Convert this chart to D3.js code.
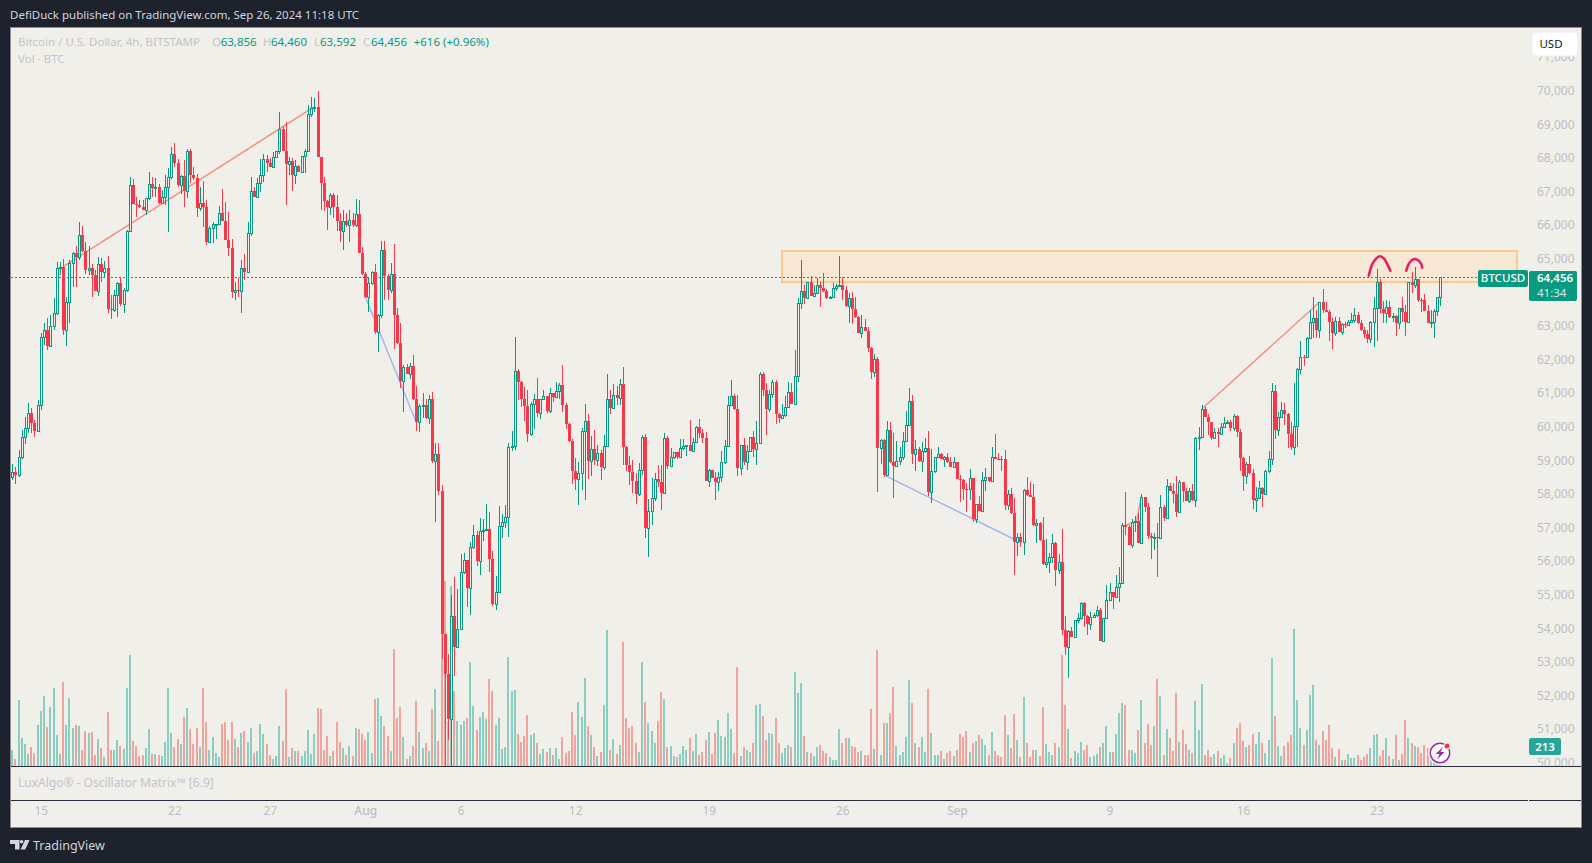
<!DOCTYPE html>
<html>
<head>
<meta charset="utf-8">
<script src="https://cdn.jsdelivr.net/npm/d3@7"></script>
<style>
  html, body { margin: 0; padding: 0; background: #1e222d; overflow: hidden; }
  text { font-family: "Noto Sans", sans-serif; }
</style>
</head>
<body>
<div id="chart-area"></div>
<script>
// BTCUSD 4h candles, Jul 13 12:00 UTC to Sep 26 08:00 UTC
const startTime = Date.UTC(2024, 6, 13, 12);
const firstOpen = 58500;

const closes = [
  58650,58550,59100,59700,59950,60400,60100,59880,60650,62670,
  62880,62415,63000,63375,64710,64740,62880,63720,64860,65160,
  65040,65695,65230,64665,64720,64515,64050,64830,64610,64710,
  63510,63480,63910,64270,63650,64070,65830,67185,66630,66590,
  66530,66460,66795,67215,67115,67140,66650,66850,67145,67420,
  68115,67840,67190,67470,67025,68205,67500,67410,66510,66650,
  66540,65495,65905,66020,66025,66350,66130,65555,65330,64020,
  64065,64050,64710,64610,65755,67010,66850,67240,67490,67960,
  67860,67740,68017,68215,68850,68215,67818,67900,67490,67770,
  67590,68055,68215,69305,69475,69525,68036,67243,66727,66550,
  66895,66530,66130,65825,66130,66000,66150,66000,66320,65180,
  64545,63870,64266,64593,62812,63336,65248,64488,64070,64554,
  63310,62497,61370,61777,61567,61800,60820,60140,60624,60650,
  60270,60820,58985,59183,58096,53838,52633,51296,54362,53458,
  53969,55673,56040,55214,56406,56773,56013,56890,56930,56956,
  56065,54725,55091,57036,57175,57304,59407,59420,61648,61321,
  60825,60627,59793,60666,60815,60418,60815,60905,60478,60994,
  60895,61063,61232,60647,60091,59575,58692,58454,58633,59863,
  60160,58990,59327,59020,59208,58812,59436,60815,60567,60934,
  60865,61262,59407,58861,58663,58395,58008,58712,59694,56996,
  57502,57869,58434,58355,58038,59655,58831,59109,59238,59099,
  59357,59436,59446,59288,59535,59982,59813,59674,58395,58712,
  58484,58365,58514,58940,59436,60637,60915,60518,58782,59446,
  58960,59278,59684,59347,59506,61559,61093,60527,60974,61321,
  60388,60269,60348,60577,61023,60686,61500,63672,64029,63840,
  64297,63900,63970,64217,64118,64049,63830,63850,64128,64198,
  64228,64069,63592,63821,63503,63265,62799,62958,62858,62352,
  61638,62015,59376,59595,58563,59892,58960,58841,58990,59109,
  59575,60041,60755,59198,59327,58990,59277,59357,58047,58672,
  59089,59178,59050,59089,58950,58801,58940,58454,58414,58146,
  58140,58464,57264,57690,57502,58414,58494,58395,59089,59040,
  59030,59025,57670,57988,57422,56579,56708,56559,58117,57967,
  57918,57075,57124,56629,55924,55983,56133,56530,55737,55964,
  53950,53455,53921,53752,54238,54298,54744,54377,54119,54347,
  54387,54546,53633,54298,54843,55072,54943,55220,55340,57075,
  57025,56480,57175,57195,56550,57918,57621,56758,56679,56728,
  56679,57601,57294,58226,58087,58008,57462,58345,58087,57800,
  58097,57819,59655,59704,60527,60299,60131,59674,59853,59783,
  59982,60121,60150,59962,60319,59853,59079,58534,58891,58613,
  57819,57889,58166,57998,58682,59050,61073,59902,60280,60496,
  60379,59793,59387,60011,61718,62085,62065,62630,63106,63225,
  62888,63702,63464,63424,63126,62779,63156,62829,63057,63040,
  63126,63176,63315,63077,62878,62749,62610,63106,63523,64297,
  63503,63374,63573,63255,63295,63077,63523,63424,63126,64317,
  64208,64406,63771,63760,63454,63097,63126,63444,63856,64456
];
const highs = [
  58900,58800,59300,59900,60300,60700,60550,60200,60800,62800,
  63080,63225,63325,63820,64910,64910,64990,63850,64960,65210,
  65380,66080,65980,65490,65380,64830,64660,65040,65010,64920,
  65080,63920,64070,64320,64420,64120,65850,67420,67370,66825,
  66745,66745,66800,67570,67420,67390,67220,67045,67490,67690,
  68325,68445,67957,67490,67940,68265,68265,67720,67510,67120,
  67310,66745,65985,66100,66030,66570,67075,66685,66400,65585,
  64320,64420,64960,65140,66080,67420,67140,67390,67960,68105,
  68080,67990,68185,68215,69356,68950,69068,68015,67990,67940,
  67790,68055,68265,69575,69800,69790,69990,68036,67440,66745,
  66945,66945,66896,66350,66450,66350,66450,66350,66767,66745,
  65358,64615,64423,64640,64842,63340,65524,65524,64555,64880,
  65432,63532,63074,61830,61870,61910,62130,61213,60690,61017,
  60820,60950,61030,59510,59510,58266,53840,53222,54991,55515,
  55160,56209,56240,56040,56560,57060,56900,57280,57245,57690,
  57454,56312,55558,57640,57403,57670,59525,59873,62660,61708,
  61360,61172,61093,60736,60974,61460,60815,61093,60915,61153,
  60994,61320,61312,61837,60716,60100,59625,59069,58950,59962,
  60666,60379,59724,59903,59456,59308,59754,61569,61093,61272,
  61212,61420,61777,59427,59139,59010,58613,58910,59754,59783,
  57839,58464,58613,58861,58861,59803,59724,59367,59240,59258,
  59635,59645,59446,60200,59655,60022,60220,59942,59843,58752,
  58712,58652,58652,59278,59605,60915,61391,60974,60944,59450,
  59655,59446,59704,59873,60170,61619,61619,61291,61093,61390,
  61380,60418,60666,60924,61331,61291,62283,63840,64961,64217,
  64297,64485,64217,64416,64317,64565,64088,63900,64287,64247,
  65080,64446,64188,63989,64019,63850,63295,63315,63206,62958,
  62382,62164,62065,59635,59634,60170,60140,59803,59575,59407,
  59853,60468,61152,60943,59605,59407,59555,59654,59870,59327,
  59109,59407,59208,59129,59208,59109,59089,58950,58563,58434,
  58315,58741,58464,57690,57938,58662,58761,58513,59406,59783,
  59208,59130,59307,58116,58166,57868,56827,56827,58136,58493,
  58345,58295,57243,57174,57323,56648,56232,56798,56560,56212,
  56947,54367,53950,54030,54248,54447,54794,54784,54397,54496,
  54467,54665,54595,54298,55290,55340,55092,55587,55835,57125,
  58058,57075,57254,57343,57423,57998,57918,57720,56827,56827,
  57125,57958,57660,58434,58325,58315,58534,58415,58345,58167,
  58167,58295,59704,60002,60647,60577,60379,60131,59952,59952,
  60101,60280,60200,60200,60369,60339,59922,59089,58941,59129,
  58742,58196,58385,58216,58712,59277,61291,61242,60448,60736,
  60696,60398,60150,61291,61737,62561,62134,62680,63473,63851,
  63474,63722,64089,63722,63474,63226,63275,63275,63097,63126,
  63176,63374,63523,63404,63176,62978,62878,63156,63870,64694,
  64386,63751,63771,63741,63374,63325,63543,63870,63622,64317,
  64613,64762,64406,63820,63950,63622,63474,63494,63870,64460
];
const lows = [
  58400,58300,58500,59050,59500,59800,59800,59700,59850,60500,
  62430,62280,62432,62878,63325,64510,62730,62410,63100,64170,
  64150,64960,65210,64545,64510,63870,64040,63900,64320,64420,
  63390,63215,63420,63275,63592,63390,64020,65800,66620,66250,
  66520,66450,66310,66745,66825,66825,66630,66630,66600,65800,
  67360,67740,67144,66925,66550,66815,67240,67340,66250,66420,
  65950,65420,65460,65460,65585,66020,66120,65550,65080,63820,
  63770,63870,63390,64370,64620,65680,66840,66840,67000,67290,
  67590,67730,67730,67985,68130,68210,66598,67490,67025,67213,
  67585,67585,67540,68175,69225,69375,68030,66450,66430,65850,
  66300,66200,65835,65500,65260,65950,65500,65950,65950,65180,
  64515,63820,63410,64220,62760,62220,63240,63768,63770,63990,
  62325,62460,61150,60427,61560,61410,60780,59877,59840,60258,
  60230,60074,58920,57152,57980,53090,49500,50668,49000,52567,
  53420,53950,55620,54625,54400,56360,55840,55580,56590,56890,
  55670,54675,54546,55091,56690,56996,56728,59288,59310,60795,
  60597,60170,59555,59735,59932,60290,60220,60795,60420,60420,
  60745,60875,60815,60448,59932,59555,58296,58117,57671,58117,
  57820,58444,58534,58861,58830,58414,58712,59425,60389,60537,
  60647,60637,58861,58692,58266,58018,57700,57950,58563,56688,
  56133,57075,57790,58216,57522,58038,58732,58811,59040,59040,
  59080,59307,59129,59280,59258,59525,59674,59506,58390,58216,
  58464,57820,58097,58365,58901,59407,60617,60498,58534,58573,
  58861,58712,59248,59109,58861,59486,60924,59754,60448,60850,
  60080,60120,60249,60298,60567,60680,60676,61341,63503,63650,
  63840,63890,63850,63960,63572,64020,63800,63800,63820,64039,
  64168,63771,63553,63096,63057,63225,62779,62630,62848,62233,
  61420,61490,58067,58890,58514,58533,58910,57868,58860,58860,
  59010,59555,60021,58890,58692,58960,58662,59208,57938,57720,
  58632,59059,59029,58811,58930,58791,58761,58434,57770,57819,
  57472,57819,57174,57125,57495,57495,58097,58364,58394,59030,
  59029,58692,57522,57522,57402,55587,56162,56430,56182,57948,
  57908,57045,56549,56599,55884,55785,55640,55954,55270,55617,
  53802,53207,52532,53732,53742,54169,54248,54030,53802,53950,
  54298,54347,53630,53633,54288,54823,54575,54923,54794,55320,
  56778,56470,56391,56857,56530,56540,57462,56659,56073,56331,
  55538,56669,57204,57284,58077,57720,57323,57455,57770,57790,
  57740,57800,57621,59307,59655,60280,59754,59605,59655,59407,
  59754,59962,60101,59883,59883,59704,58683,58097,58296,58600,
  57542,57472,57869,57621,57990,58633,58861,59644,59734,60249,
  60051,59377,59307,59159,59406,61569,61807,62055,62610,62630,
  62630,62630,63394,63420,62551,62313,62710,62809,62730,62928,
  63057,63097,63077,63057,62858,62630,62482,62482,62382,62551,
  63374,63077,63077,63225,63126,62710,62898,63126,62710,63126,
  63970,64118,63722,63424,63450,63077,62928,62650,63295,63592
];
const volumes = [
  800,350,3300,1400,1100,600,950,650,2050,2750,
  3500,1950,2950,3900,1550,600,4200,2050,3400,1900,
  2050,2000,800,1750,1650,1700,550,1350,900,450,
  2700,800,800,1300,1000,850,3900,5550,1250,1000,
  500,550,900,1850,600,600,550,500,1200,3900,
  1650,950,1350,1100,2450,2900,1850,1100,1900,950,
  3900,2200,800,1450,650,450,2100,2200,1300,2200,
  1350,950,1650,1750,1200,1900,650,750,2100,1600,
  1100,550,350,500,2000,1250,3850,450,900,750,
  750,500,750,1800,600,1600,2900,2850,800,1500,
  500,750,2200,1200,900,550,1000,500,1900,1850,
  1600,1300,1700,650,3350,3400,2500,2000,1500,750,
  5850,2400,2950,1450,350,500,1000,3250,1700,900,
  1150,750,2850,3850,1250,8400,9250,2250,9000,3750,
  2250,2050,2250,2400,5200,3000,1800,2450,2700,2350,
  4350,3750,2050,2400,850,950,5450,3750,3800,1600,
  1200,1500,2550,1550,1650,1150,600,850,700,900,
  550,900,350,1450,650,750,2700,1550,3200,2450,
  4400,2000,1550,950,500,700,3050,6800,800,1350,
  600,1050,6200,2400,1900,2000,1150,700,5200,3200,
  2150,1750,1150,2250,3700,3350,950,1000,500,450,
  600,1000,800,1400,750,1600,550,700,1300,1700,
  600,1650,2300,1500,1450,2650,1850,650,4950,500,
  950,800,700,1150,3050,3100,2500,1300,1650,1600,
  2400,1150,650,900,1050,950,4700,3650,4150,1500,
  700,650,500,950,1050,750,650,450,300,300,
  1850,1150,1400,1400,1000,950,700,750,550,550,
  2850,850,5800,550,2150,2150,2650,3950,1000,550,
  700,1450,4300,3150,1150,950,1450,700,3850,1650,
  550,550,750,350,650,750,500,800,1600,1450,
  1750,700,1150,1250,1550,1350,1050,550,1700,750,
  550,450,2550,1550,900,2600,1300,450,3450,1150,
  450,800,800,500,2950,1100,700,550,1150,950,
  5550,3050,1850,400,750,650,1200,800,1050,450,
  500,600,950,1150,2000,700,700,1600,2650,3150,
  3050,800,800,650,1800,3300,1150,2100,1050,2000,
  4350,3500,550,1850,1400,750,3650,1200,1800,1100,
  800,650,3250,1800,4100,550,800,450,600,750,
  400,550,150,400,1150,1900,2150,1250,950,1050,
  1600,1100,1700,1150,650,1300,5400,2500,1000,500,
  1000,1200,1550,6850,3300,1900,1050,1800,3550,4050,
  1300,1050,1750,1300,2050,900,450,850,300,300,
  600,400,400,550,300,450,600,900,1550,1600,
  500,800,1400,500,350,1550,300,600,2300,1400,
  1150,1000,950,650,1050,900,900,150,150,213
];

// 64,000 is covered by the last price label, so it is left out
const priceTicks = [50000,51000,52000,53000,54000,55000,56000,57000,58000,59000,60000,
  61000,62000,63000,65000,66000,67000,68000,69000,70000,71000];
const timeTicks = [
  {label: "15", date: Date.UTC(2024, 6, 15)},
  {label: "22", date: Date.UTC(2024, 6, 22)},
  {label: "27", date: Date.UTC(2024, 6, 27)},
  {label: "Aug", date: Date.UTC(2024, 7, 1)},
  {label: "6", date: Date.UTC(2024, 7, 6)},
  {label: "12", date: Date.UTC(2024, 7, 12)},
  {label: "19", date: Date.UTC(2024, 7, 19)},
  {label: "26", date: Date.UTC(2024, 7, 26)},
  {label: "Sep", date: Date.UTC(2024, 8, 1)},
  {label: "9", date: Date.UTC(2024, 8, 9)},
  {label: "16", date: Date.UTC(2024, 8, 16)},
  {label: "23", date: Date.UTC(2024, 8, 23)}
];

// drawings on the chart, as [candle index, price]
const supplyZone = {from: 242, to: 473, top: 65238, bottom: 64315};
const redLines = [
  [[16, 64762], [95, 69525]],
  [[374, 60527], [411, 63702]],
  [[349.5, 57050], [353.5, 57195], [355, 57918]]
];
const blueLines = [
  [[111, 63870], [127, 60140]],
  [[274, 58563], [317, 56559]]
];
const arcs = [
  [[426.5, 64495], [427.5, 64813], [428.6, 64982], [429.9, 65072], [431.2, 65012], [432.2, 64863], [433.3, 64643]],
  [[438.3, 64643], [439, 64833], [440.1, 64961], [441.1, 64991], [442.2, 64940], [443, 64842], [443.3, 64733]]
];

const lastPrice = 64456;
const lastVolume = 213;

const green = "#089981";
const red = "#f7374a";
const paneBg = "#f1efe9";
const faint = "#bcbec5";

const width = 1592;
const height = 863;
const frame = {left: 10, top: 27, right: 1581, bottom: 827};
const axisX = 1528;
const volumeBase = 766;
const timeLine = 800;

const svg = d3.select("#chart-area").append("svg").attr("width", width).attr("height", height)
  .style("display", "block");

svg.append("rect").attr("x", frame.left + 0.5).attr("y", frame.top + 0.5)
  .attr("width", frame.right - frame.left).attr("height", frame.bottom - frame.top)
  .attr("fill", paneBg).attr("stroke", "#8b8d92");

const defs = svg.append("defs");
defs.append("clipPath").attr("id", "price-clip").append("rect")
  .attr("x", frame.left + 1).attr("y", frame.top + 1)
  .attr("width", frame.right - frame.left - 1).attr("height", volumeBase - frame.top - 1);

// one candle every 4 hours, 3.18px apart
const scaleX = d3.scaleLinear().domain([0, 449]).range([12.2, 1440.3]);
const scaleY = d3.scaleLinear().domain([50000, 70000]).range([762.7, 90.7]);
const scaleVolume = d3.scaleLinear().domain([0, 5000]).range([volumeBase, volumeBase - 100]);
const timeToIndex = t => (t - startTime) / (4 * 3600 * 1000);

const candles = closes.map((close, i) => ({
  i: i,
  open: i === 0 ? firstOpen : closes[i - 1],
  close: close,
  high: highs[i],
  low: lows[i],
  volume: volumes[i]
}));

const pane = svg.append("g").attr("clip-path", "url(#price-clip)");

// price axis, labels run under the currency button and the pane edge
const yAxis = d3.axisRight(scaleY).tickValues(priceTicks).tickSize(0).tickPadding(9).tickFormat(d3.format(","));
const yAxisGroup = pane.append("g").attr("transform", `translate(${axisX}, 0)`).call(yAxis);
yAxisGroup.select(".domain").remove();
yAxisGroup.selectAll("text").attr("font-size", "12px").attr("fill", faint)
  .style("font-family", '"Noto Sans", sans-serif');

// volume
pane.append("g").selectAll("rect").data(candles).enter().append("rect")
  .attr("x", d => Math.round(scaleX(d.i)) - 1)
  .attr("y", d => Math.round(scaleVolume(d.volume)))
  .attr("width", 2)
  .attr("height", d => volumeBase - Math.round(scaleVolume(d.volume)))
  .attr("fill", d => d.close >= d.open ? "#8ccdc1" : "#f1a39c")
  .attr("shape-rendering", "crispEdges");

// zone
pane.append("rect")
  .attr("x", Math.round(scaleX(supplyZone.from)))
  .attr("y", Math.round(scaleY(supplyZone.top)))
  .attr("width", Math.round(scaleX(supplyZone.to)) - Math.round(scaleX(supplyZone.from)))
  .attr("height", Math.round(scaleY(supplyZone.bottom)) - Math.round(scaleY(supplyZone.top)))
  .attr("fill", "#f7e8d5").attr("stroke", "#f8cb8b").attr("stroke-width", 2);

// last price line
pane.append("line")
  .attr("x1", frame.left + 1).attr("x2", axisX)
  .attr("y1", Math.round(scaleY(lastPrice)) + 0.5).attr("y2", Math.round(scaleY(lastPrice)) + 0.5)
  .attr("stroke", green).attr("stroke-dasharray", "2,2")
  .attr("shape-rendering", "crispEdges");

// trend lines sit behind the candles
const pointLine = d3.line().x(p => scaleX(p[0])).y(p => scaleY(p[1]));
const arcLine = d3.line().x(p => scaleX(p[0])).y(p => scaleY(p[1])).curve(d3.curveCatmullRom);

pane.append("g").selectAll("path").data(redLines).enter().append("path")
  .attr("d", pointLine).attr("fill", "none").attr("stroke", "#f88a7e").attr("stroke-width", 1.4);
pane.append("g").selectAll("path").data(blueLines).enter().append("path")
  .attr("d", pointLine).attr("fill", "none").attr("stroke", "#a0b4f2").attr("stroke-width", 1.4);

// wicks
pane.append("g").selectAll("line").data(candles).enter().append("line")
  .attr("x1", d => Math.round(scaleX(d.i)) + 0.5)
  .attr("x2", d => Math.round(scaleX(d.i)) + 0.5)
  .attr("y1", d => Math.round(scaleY(d.high)))
  .attr("y2", d => Math.round(scaleY(d.low)))
  .attr("stroke", d => d.close >= d.open ? green : red)
  .attr("shape-rendering", "crispEdges");

// bodies: hollow green, solid red
pane.append("g").selectAll("rect").data(candles).enter().append("rect")
  .attr("x", d => d.close >= d.open ? Math.round(scaleX(d.i)) - 0.5 : Math.round(scaleX(d.i)) - 1)
  .attr("y", d => {
    const top = Math.round(scaleY(Math.max(d.open, d.close)));
    return d.close >= d.open ? top + 0.5 : top;
  })
  .attr("width", d => d.close >= d.open ? 2 : 3)
  .attr("height", d => Math.max(1, Math.round(scaleY(Math.min(d.open, d.close))) - Math.round(scaleY(Math.max(d.open, d.close)))))
  .attr("fill", d => d.close >= d.open ? paneBg : red)
  .attr("stroke", d => d.close >= d.open ? green : "none")
  .attr("shape-rendering", "crispEdges");

// the two hand drawn tops
pane.append("g").selectAll("path").data(arcs).enter().append("path")
  .attr("d", arcLine).attr("fill", "none").attr("stroke", "#e91e63").attr("stroke-width", 2.6)
  .attr("stroke-linecap", "round");

// pane separators
[volumeBase, timeLine].forEach(y => {
  svg.append("line").attr("x1", frame.left + 1).attr("x2", frame.right)
    .attr("y1", y + 0.5).attr("y2", y + 0.5).attr("stroke", "#2a2e39");
});
svg.append("rect").attr("x", axisX).attr("y", timeLine).attr("width", 1).attr("height", 1).attr("fill", "#fff");

// time axis
const xAxis = d3.axisBottom(scaleX)
  .tickValues(timeTicks.map(t => timeToIndex(t.date)))
  .tickFormat((d, i) => timeTicks[i].label)
  .tickSize(0).tickPadding(6);
const xAxisGroup = svg.append("g").attr("transform", `translate(0, ${timeLine})`).call(xAxis);
xAxisGroup.select(".domain").remove();
xAxisGroup.selectAll("text").attr("font-size", "12px").attr("fill", faint)
  .attr("font-weight", (d, i) => isNaN(+timeTicks[i].label) ? "500" : "400")
  .style("font-family", '"Noto Sans", sans-serif');

// currency button
svg.append("rect").attr("x", 1532).attr("y", 32).attr("width", 46).attr("height", 24).attr("rx", 4)
  .attr("fill", "#ffffff").attr("stroke", "#eceef2");
svg.append("text").attr("x", 1551).attr("y", 48).attr("text-anchor", "middle")
  .attr("font-size", "11.5px").attr("fill", "#131722").text("USD");

// price labels
const labelY = Math.round(scaleY(lastPrice));
svg.append("rect").attr("x", 1478).attr("y", labelY - 7).attr("width", 50).attr("height", 17).attr("rx", 2).attr("fill", green);
svg.append("text").attr("x", 1503).attr("y", labelY + 5).attr("text-anchor", "middle")
  .attr("font-size", "11.5px").attr("font-weight", "500").attr("fill", "#fff").text("BTCUSD");
svg.append("rect").attr("x", 1529).attr("y", labelY - 6).attr("width", 48).attr("height", 30).attr("rx", 2).attr("fill", green);
svg.append("text").attr("x", 1537).attr("y", labelY + 5)
  .attr("font-size", "11.5px").attr("font-weight", "600").attr("fill", "#fff").text(d3.format(",")(lastPrice));
svg.append("text").attr("x", 1537).attr("y", labelY + 20)
  .attr("font-size", "11.5px").attr("fill", "#fff").attr("fill-opacity", 0.85).text("41:34");

svg.append("rect").attr("x", 1529).attr("y", 738).attr("width", 32).attr("height", 17).attr("rx", 2).attr("fill", "#26a69a");
svg.append("text").attr("x", 1545).attr("y", 751).attr("text-anchor", "middle")
  .attr("font-size", "11.5px").attr("font-weight", "600").attr("fill", "#fff").text(lastVolume);

// lightning badge on the last bar
const badge = svg.append("g").attr("transform", `translate(${Math.round(scaleX(449))}, 753)`);
badge.append("circle").attr("r", 12).attr("fill", paneBg);
badge.append("circle").attr("r", 9.7).attr("fill", "#fff").attr("stroke", "#9c27b0").attr("stroke-width", 1.5);
badge.append("path").attr("d", "M3,-6 L-4.5,1 L-0.5,1 L-3,6.5 L4.5,-1 L0.5,-1 Z").attr("fill", "#9c27b0");
badge.append("circle").attr("cx", 7).attr("cy", -7).attr("r", 3.6).attr("fill", "#fff");
badge.append("circle").attr("cx", 7).attr("cy", -7).attr("r", 2.5).attr("fill", "#f23645");

// header text
svg.append("text").attr("x", 10).attr("y", 19).attr("font-size", "11.5px").attr("fill", "#d1d4dc")
  .text("DefiDuck published on TradingView.com, Sep 26, 2024 11:18 UTC");

const legendParts = [
  {x: 18, text: "Bitcoin / U.S. Dollar, 4h, BITSTAMP", fill: "#c3c4c9"},
  {x: 212, text: "O", fill: "#c3c4c9"},
  {x: 220.7, text: "63,856", fill: green},
  {x: 263, text: "H", fill: "#c3c4c9"},
  {x: 271, text: "64,460", fill: green},
  {x: 314, text: "L", fill: "#c3c4c9"},
  {x: 320, text: "63,592", fill: green},
  {x: 363, text: "C", fill: "#c3c4c9"},
  {x: 371, text: "64,456", fill: green},
  {x: 413.7, text: "+616 (+0.96%)", fill: green}
];
svg.append("g").selectAll("text").data(legendParts).enter().append("text")
  .attr("x", d => d.x).attr("y", 46).attr("font-size", "11.5px").attr("fill", d => d.fill).text(d => d.text);
svg.append("text").attr("x", 18).attr("y", 63).attr("font-size", "11.5px").attr("fill", "#c3c4c9").text("Vol · BTC");
svg.append("text").attr("x", 18).attr("y", 787).attr("font-size", "12px").attr("fill", "#c3c4c9")
  .text("LuxAlgo® - Oscillator Matrix™ [6.9]");

// footer logo
const logo = svg.append("g").attr("transform", "translate(10, 840)").attr("fill", "#d1d4dc");
logo.append("path").attr("d", "M0,0 H9.5 V9.5 H5 V4 H0 Z");
logo.append("circle").attr("cx", 11.6).attr("cy", 1.8).attr("r", 1.8);
logo.append("path").attr("d", "M15,0 H19.5 L15.3,9.5 H10.6 Z");
svg.append("text").attr("x", 33).attr("y", 850).attr("font-size", "12.5px").attr("fill", "#d1d4dc").text("TradingView");
</script>
</body>
</html>
